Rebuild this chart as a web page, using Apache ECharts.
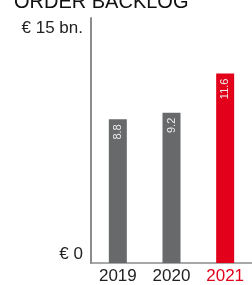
<!DOCTYPE html>
<html><head><meta charset="utf-8">
<script src="https://cdn.jsdelivr.net/npm/echarts@6/dist/echarts.min.js"></script>
<style>html,body{margin:0;padding:0;background:#fff;}#c{width:252px;height:285px;}</style>
</head><body><div id="c"></div>
<script>
const categories = ['2019', '2020', '2021'];
const values = [8.8, 9.2, 11.6];
const yTicks = { min: 0, max: 15, minLabel: '€ 0', maxLabel: '€ 15 bn.' };
const title = 'ORDER BACKLOG';

const gray = '#68696b', red = '#e2001a';
const chart = echarts.init(document.getElementById('c'), null, {renderer: 'canvas'});
chart.setOption({
  animation: false,
  title: { text: title, left: 9, top: -13, textStyle: { fontFamily: 'Liberation Sans, Arial', fontSize: 20, fontWeight: 'normal', color: '#111' } },
  grid: { left: 91, right: -6, top: 18, bottom: 20, containLabel: false },
  xAxis: {
    type: 'category', data: categories,
    axisLine: { lineStyle: { color: '#8c8c8c', width: 1.5 } },
    axisTick: { show: false },
    axisLabel: { margin: 5, fontFamily: 'Liberation Sans, Arial', fontSize: 17, color: function (v, i) { return i === 2 ? red : '#222'; } }
  },
  yAxis: {
    type: 'value', min: yTicks.min, max: yTicks.max, interval: 15,
    splitLine: { show: false },
    axisLine: { show: true, lineStyle: { color: '#8c8c8c', width: 2 } },
    axisTick: { show: false },
    axisLabel: {
      margin: 8, fontFamily: 'Liberation Sans, Arial', fontSize: 17, color: '#222',
      verticalAlignMinLabel: 'bottom', verticalAlignMaxLabel: 'top',
      padding: [2, 0, 0, 0],
      formatter: function (v) { return v === yTicks.max ? yTicks.maxLabel : (v === yTicks.min ? yTicks.minLabel : ''); }
    }
  },
  series: [{
    type: 'bar', barWidth: 18,
    data: values.map(function (v, i) { return { value: v, itemStyle: { color: i === 2 ? red : gray } }; }),
    label: {
      show: true, position: 'insideTop', distance: 5, rotate: 90, align: 'right', verticalAlign: 'middle',
      fontFamily: 'Liberation Sans, Arial', fontSize: 11, color: '#eeeeee',
      formatter: function (p) { return p.value.toFixed(1); }
    }
  }]
});
</script></body></html>
